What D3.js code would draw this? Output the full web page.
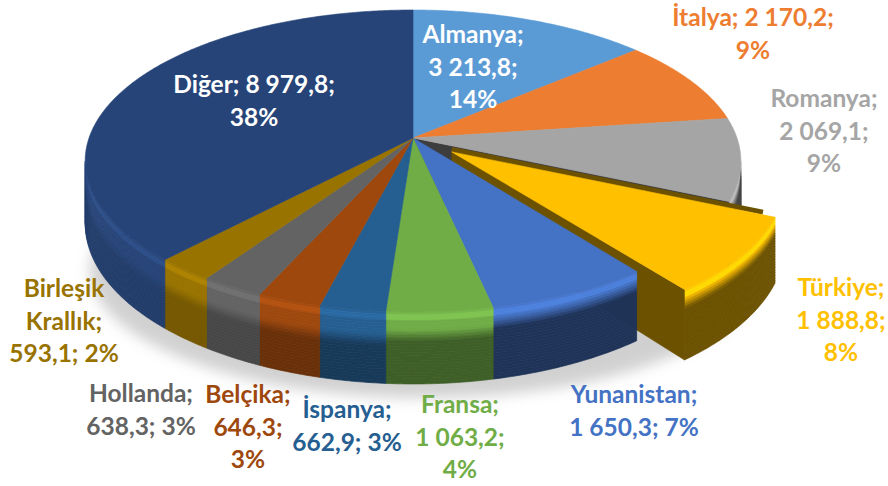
<!DOCTYPE html>
<html><head><meta charset="utf-8">
<script src="https://cdn.jsdelivr.net/npm/d3@7"></script>
<style>html,body{margin:0;padding:0;background:#fff;}svg{display:block;}</style>
</head><body><svg id="c" width="888" height="486"></svg>
<script>
// ---- data ----
const categories = ["Almanya","İtalya","Romanya","Türkiye","Yunanistan","Fransa","İspanya","Belçika","Hollanda","Birleşik Krallık","Diğer"];
const values = [3213.8,2170.2,2069.1,1888.8,1650.3,1063.2,662.9,646.3,638.3,593.1,8979.8];
const percentLabels = ["14%","9%","9%","8%","7%","4%","3%","3%","3%","2%","38%"];
const colors = ["#5B9BD5","#ED7D31","#A5A5A5","#FFC000","#4472C4","#70AD47","#255E91","#9E480E","#636363","#997300","#264478"];
const labelColors = ["#FFFFFF","#ED7D31","#A5A5A5","#FFC000","#4472C4","#70AD47","#255E91","#9E480E","#636363","#997300","#FFFFFF"];
const explodedIndex = 3;
// ---- layout ----
const lineBreaks = [[1,1,1],[2,1],[1,1,1],[1,1,1],[1,2],[1,1,1],[1,2],[1,1,1],[1,2],[1,1,2],[2,1]];
const labelPos = [[473,43],[753,26],[824,107],[841,296],[634,403],[460,413],[347,418],[248,403],[141,402],[64,297],[254,93]];
const linePitch = 32.5;
const cx = 413, cy0 = 138, A = 324, B = 147.5, p = 0.1523, H = 61, explode = 0.15;

const fmt = d3.formatLocale({decimal:",", thousands:" ", grouping:[3], currency:["",""]}).format(",.1f");
const svg = d3.select("#c");
const defs = svg.append("defs");
defs.append("filter").attr("id","blur").attr("x","-20%").attr("y","-50%").attr("width","140%").attr("height","200%")
  .append("feGaussianBlur").attr("stdDeviation", 7);

const pie = d3.pie().sort(null).value(d => d).startAngle(0).endAngle(2*Math.PI);
const arcs = pie(values);

function P(a, r, h, off) {
  const u = r*Math.sin(a) + off[0], v = -r*Math.cos(a) + off[1];
  const d = 1 - p*v;
  return [cx + A*u/d, cy0 + (B*v + H*h)/d];
}
const line = d3.line();
function samples(a0, a1) {
  const n = Math.max(2, Math.ceil((a1 - a0) / 0.01));
  return d3.range(n + 1).map(i => a0 + (a1 - a0) * i / n);
}
const visMin = Math.acos(-p), visMax = 2*Math.PI - Math.acos(-p);
const clamp = x => Math.min(1, Math.max(0, x));

arcs.forEach((d, i) => {
  d.mid = (d.startAngle + d.endAngle) / 2;
  d.off = i === explodedIndex ? [explode*Math.sin(d.mid), -explode*Math.cos(d.mid)] : [0,0];
});

const g = svg.append("g");
// shadow
g.append("ellipse").attr("cx", 425).attr("cy", 270).attr("rx", 335).attr("ry", 128)
  .attr("fill", "#8c8c8c").attr("opacity", 0.4).attr("filter", "url(#blur)");

function topFace(d, i) {
  const pts = [P(0,0,0,d.off)].concat(samples(d.startAngle, d.endAngle).map(a => P(a,1,0,d.off)));
  g.append("path").attr("d", line(pts) + "Z").attr("fill", colors[i])
    .attr("stroke", colors[i]).attr("stroke-width", 0.6);
}
function wallColor(i, h, deg) {
  const base = d3.rgb(colors[i]);
  const f = 0.42 + 0.5 * clamp((deg - 150) / 100);
  const lower = d3.rgb(base.r*f, base.g*f, base.b*f);
  const rim = 0.12 + 0.2 * clamp((deg - 150) / 40);
  if (h < 0.05) return base.brighter(0.15);
  if (h < 0.11) return base.brighter(0.35);
  const t = clamp((h - rim) / 0.16);
  return d3.interpolateRgb(base, lower)(t);
}
function wall(d, i) {
  const a0 = Math.max(d.startAngle, visMin), a1 = Math.min(d.endAngle, visMax);
  if (a1 <= a0) return;
  const deg = ((a0 + a1) / 2) * 180 / Math.PI;
  const bands = d3.range(0, 1.0001, 0.04);
  const ss = samples(a0, a1);
  for (let k = 0; k < bands.length - 1; k++) {
    const h0 = bands[k], h1 = bands[k+1];
    const pts = ss.map(a => P(a,1,h0,d.off)).concat(ss.slice().reverse().map(a => P(a,1,h1,d.off)));
    const c = wallColor(i, (h0+h1)/2, deg);
    g.append("path").attr("d", line(pts) + "Z").attr("fill", c).attr("stroke", c).attr("stroke-width", 0.7);
  }
}
function cutFace(d, a, color) {
  const pts = [P(a,0,0,d.off), P(a,1,0,d.off), P(a,1,1,d.off), P(a,0,1,d.off)];
  g.append("path").attr("d", line(pts) + "Z").attr("fill", color).attr("stroke", color).attr("stroke-width", 0.5);
}

// back-right walls (before exploded slice)
arcs.forEach((d, i) => { if (i < explodedIndex) wall(d, i); });
cutFace(arcs[explodedIndex-1], arcs[explodedIndex-1].endAngle, "#3d3d3d");
// exploded slice
const ex = arcs[explodedIndex];
const exDark = d3.rgb(colors[explodedIndex]).darker(2.4);
wall(ex, explodedIndex);
cutFace(ex, ex.endAngle, exDark);
{
  const s0 = P(ex.startAngle,0,0,ex.off), s1 = P(ex.startAngle,0.965,0,ex.off);
  g.append("path").attr("d", line([[s0[0],s0[1]-2.5],[s1[0],s1[1]-2.5]]))
    .attr("stroke", exDark).attr("stroke-width", 5).attr("fill","none");
}
topFace(ex, explodedIndex);
// front walls
arcs.forEach((d, i) => { if (i > explodedIndex) wall(d, i); });
// top faces
arcs.forEach((d, i) => { if (i !== explodedIndex) topFace(d, i); });

// labels
const lab = svg.append("g").attr("font-family", "Lato, 'Open Sans', sans-serif")
  .attr("font-weight", 700).attr("font-size", 24.5).attr("text-anchor", "middle");
arcs.forEach((d, i) => {
  const words = categories[i].split(" ");
  words[words.length-1] += ";";
  const parts = words.concat([fmt(values[i]) + ";", percentLabels[i]]);
  const lines = []; let k = 0;
  lineBreaks[i].forEach(n => { lines.push(parts.slice(k, k+n).join(" ")); k += n; });
  const t = lab.append("text").attr("fill", labelColors[i]);
  lines.forEach((s, j) => t.append("tspan").attr("x", labelPos[i][0]).attr("y", labelPos[i][1] + j*linePitch).text(s));
});
</script></body></html>
